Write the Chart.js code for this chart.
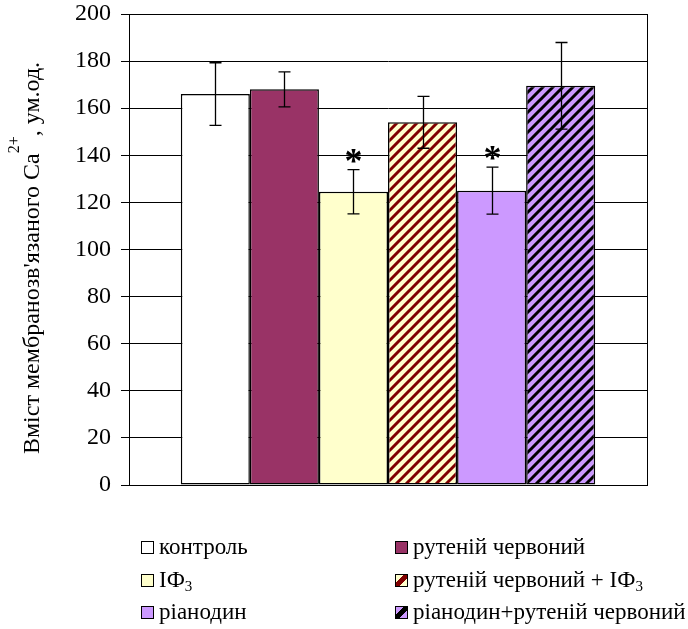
<!DOCTYPE html>
<html>
<head>
<meta charset="utf-8">
<script src="https://cdn.jsdelivr.net/npm/chart.js@4"></script>
<style>
  body { margin: 0; background: #fff; }
  #wrap { position: relative; width: 688px; height: 629px; }
  #legend { position: absolute; left: 0; top: 0; width: 688px; height: 629px; pointer-events: none;
    font-family: "Liberation Serif", "Times New Roman", serif; font-size: 23px; color: #000; }
  .item { position: absolute; display: flex; align-items: center; white-space: nowrap; }
  .box { width: 11px; height: 11px; border: 1px solid #000; margin-right: 5px; box-sizing: content-box; }
  sub { font-size: 15px; vertical-align: -4px; line-height: 0; }
</style>
</head>
<body>
<div id="wrap">
  <canvas id="myChart" width="688" height="629"></canvas>
  <div id="legend"></div>
</div>
<script>
// data
const names = ['контроль', 'рутеній червоний', 'IФ3', 'рутеній червоний + IФ3', 'ріанодин', 'ріанодин+рутеній червоний'];
const values = [166, 168, 124.5, 154, 125, 169.5];
const errors = [13.3, 7.4, 9.4, 11, 10, 18.4];
const stars = [false, false, true, false, true, false];
const fills = ['#FFFFFF', '#993366', '#FFFFCC', '#FFFFCC', '#CC99FF', '#CC99FF'];
const hatch = [null, null, null, '#800000', null, '#000000'];
const yTicks = [0, 20, 40, 60, 80, 100, 120, 140, 160, 180, 200];

const serif = '"Liberation Serif", "Times New Roman", serif';

function makeHatch(bg, fg) {
  const c = document.createElement('canvas');
  c.width = 10; c.height = 10;
  const g = c.getContext('2d');
  g.fillStyle = bg; g.fillRect(0, 0, 10, 10);
  g.strokeStyle = fg; g.lineWidth = 3;
  g.beginPath();
  g.moveTo(-5, 5); g.lineTo(5, -5);
  g.moveTo(0, 10); g.lineTo(10, 0);
  g.moveTo(5, 15); g.lineTo(15, 5);
  g.stroke();
  return g.createPattern(c, 'repeat');
}

const ctx = document.getElementById('myChart').getContext('2d');

const datasets = names.map((n, i) => ({
  label: n,
  data: [values[i]],
  backgroundColor: hatch[i] ? makeHatch(fills[i], hatch[i]) : fills[i],
  borderColor: '#000',
  borderWidth: 1.5,
  borderSkipped: false
}));

const frame = {
  id: 'frame',
  beforeDatasetsDraw(chart) {
    const a = chart.chartArea, c = chart.ctx;
    c.save();
    c.strokeStyle = '#000'; c.lineWidth = 1;
    c.strokeRect(Math.round(a.left) + 0.5, Math.round(a.top) + 0.5, Math.round(a.right - a.left), Math.round(a.bottom - a.top));
    c.restore();
  }
};

const errBars = {
  id: 'errBars',
  afterDatasetsDraw(chart) {
    const c = chart.ctx, y = chart.scales.y;
    c.save();
    c.strokeStyle = '#000'; c.lineWidth = 1.3;
    values.forEach((v, i) => {
      const bar = chart.getDatasetMeta(i).data[0];
      const x = Math.round(bar.x) + 0.5;
      const top = y.getPixelForValue(v + errors[i]);
      const bot = y.getPixelForValue(v - errors[i]);
      c.beginPath();
      c.moveTo(x, top); c.lineTo(x, bot);
      c.moveTo(x - 6, top); c.lineTo(x + 6, top);
      c.moveTo(x - 6, bot); c.lineTo(x + 6, bot);
      c.stroke();
      if (stars[i]) {
        c.fillStyle = '#000';
        c.font = 'bold 36px ' + serif;
        c.textAlign = 'center';
        c.textBaseline = 'alphabetic';
        c.fillText('*', x, top + 3);
      }
    });
    c.restore();
  }
};

const yTitle = {
  id: 'yTitle',
  afterDraw(chart) {
    const c = chart.ctx;
    const main = "Вміст мембранозв'язаного Ca", sup = '2+', tail = ', ум.од.';
    c.save();
    c.fillStyle = '#000';
    c.textBaseline = 'alphabetic';
    c.textAlign = 'left';
    c.font = '24px ' + serif;
    const w1 = c.measureText(main).width, w3 = c.measureText(tail).width;
    c.font = '16px ' + serif;
    const w2 = c.measureText(sup).width;
    const total = w1 + w2 + w3;
    c.translate(39, 258);
    c.rotate(-Math.PI / 2);
    let x = -total / 2;
    c.font = '24px ' + serif;
    c.fillText(main, x, 0); x += w1;
    c.font = '16px ' + serif;
    c.fillText(sup, x, -20); x += w2;
    c.font = '24px ' + serif;
    c.fillText(tail, x, 0);
    c.restore();
  }
};

const myChart = new Chart(ctx, {
  type: 'bar',
  data: { labels: [''], datasets: datasets },
  options: {
    responsive: false,
    animation: false,
    events: [],
    layout: { padding: { left: 0, right: 41, top: 14, bottom: 144 } },
    datasets: { bar: { categoryPercentage: 0.8, barPercentage: 1 } },
    plugins: { legend: { display: false }, tooltip: { enabled: false } },
    scales: {
      x: {
        ticks: { display: false },
        grid: { display: false },
        border: { display: true, color: '#000', width: 1 },
        afterFit(s) { s.height = 0; s.paddingLeft = 0; s.paddingRight = 0; }
      },
      y: {
        min: 0, max: 200,
        afterBuildTicks(s) { s.ticks = yTicks.map(v => ({ value: v })); },
        ticks: { color: '#000', padding: 10, font: { family: serif, size: 24 } },
        grid: { color: '#000', lineWidth: 1, tickLength: 8 },
        border: { display: true, color: '#000', width: 1 },
        afterFit(s) { s.width = 129; s.paddingTop = 0; s.paddingBottom = 0; }
      }
    }
  },
  plugins: [frame, errBars, yTitle]
});

// legend in two columns under the plot
const legendPos = [[141, 547], [395, 547], [141, 580], [395, 580], [141, 612], [395, 612]];
const leg = document.getElementById('legend');
names.forEach((n, i) => {
  const d = document.createElement('div');
  d.className = 'item';
  d.style.left = legendPos[i][0] + 'px';
  d.style.top = (legendPos[i][1] - 14) + 'px';
  d.style.height = '28px';
  const b = document.createElement('span');
  b.className = 'box';
  b.style.background = hatch[i]
    ? 'linear-gradient(135deg, ' + fills[i] + ' 36%, ' + hatch[i] + ' 36%, ' + hatch[i] + ' 64%, ' + fills[i] + ' 64%)'
    : fills[i];
  const t = document.createElement('span');
  t.innerHTML = n.replace('IФ3', 'IФ<sub>3</sub>');
  d.appendChild(b); d.appendChild(t);
  leg.appendChild(d);
});
</script>
</body>
</html>
